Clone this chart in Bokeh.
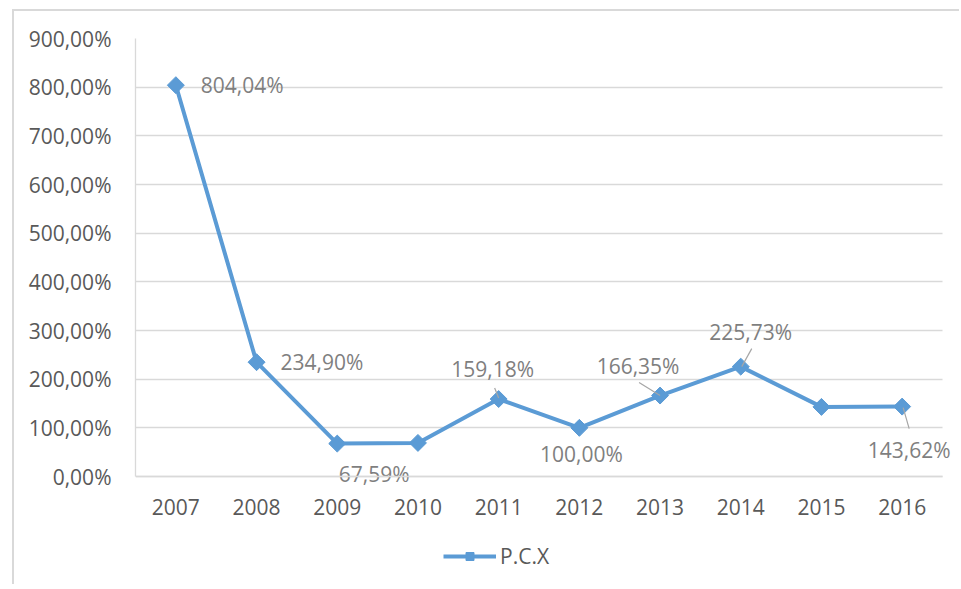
from bokeh.plotting import figure
from bokeh.models import ColumnDataSource, FixedTicker, Legend, LegendItem
from bokeh.core.properties import value
from bokeh.embed import file_html
from bokeh.resources import INLINE
import math

# ---- data ----
years = ["2007", "2008", "2009", "2010", "2011", "2012", "2013", "2014", "2015", "2016"]
values = [804.04, 234.90, 67.59, 69.0, 159.18, 100.00, 166.35, 225.73, 143.0, 143.62]
series_name = "P.C.X"
y_ticks = [0, 100, 200, 300, 400, 500, 600, 700, 800, 900]
y_tick_labels = ["0,00%", "100,00%", "200,00%", "300,00%", "400,00%",
                 "500,00%", "600,00%", "700,00%", "800,00%", "900,00%"]

# data labels (which points are labelled and their texts)
label_idx = [0, 1, 2, 4, 5, 6, 7, 9]
label_txt = ["804,04%", "234,90%", "67,59%", "159,18%", "100,00%", "166,35%", "225,73%", "143,62%"]

# ---- styles: pixel offsets of labels (dx, dy downwards) ----
label_dx = [25, 24, 37, -6, 2, -22, 10, 7]
label_dy = [0, 0, 30, -30, 26, -30, -35, 43]
label_align = ["left", "left", "center", "center", "center", "center", "center", "center"]
# leader lines: (start dx, start dy, end dx, end dy) in px for these points
leader_idx = [4, 6, 7, 9]
leader_px = [(-4, -11, 0, -1), (-21, -13, 0, 0), (11, -18, 1, 0), (1, 1, 7, 22)]

# ---- geometry (px) ----
W, H = 947, 575
BL, BT, BB = 121, 27, 0
PLOT_W = 807          # width of the category area
EXTRA_R = 14          # extra frame room on the right for labels
PLOT_H = 438          # height of the 0..900 value area
frame_h = H - BT - BB
BR = W - BL - PLOT_W - EXTRA_R
YMAX = 900
n = len(years)
px_x = PLOT_W / n
px_y = PLOT_H / YMAX
YMIN = -(frame_h - PLOT_H) / px_y
XMAX = n - 0.5 + EXTRA_R / px_x

FONT = "Open Sans"
FS = "21px"
BLUE = "#5B9BD5"
GRID = "#d9d9d9"

xs = list(range(n))

p = figure(width=W, height=H, output_backend="svg", toolbar_location=None,
           x_range=(-0.5, XMAX), y_range=(YMIN, YMAX),
           min_border_left=BL, min_border_right=BR, min_border_top=BT,
           min_border_bottom=BB)
p.styles = {"border-left": "2px solid #d9d9d9", "border-top": "2px solid #d9d9d9",
            "margin-left": "12px", "margin-top": "9px"}
p.outline_line_color = None
p.background_fill_color = "white"
p.border_fill_color = "white"

p.xgrid.visible = False
p.ygrid.grid_line_color = GRID
p.ygrid.grid_line_width = 1.3
p.ygrid.ticker = FixedTicker(ticks=y_ticks)
try:
    p.ygrid.cross_bounds = (-0.5, n - 0.5)
except Exception:
    pass

p.yaxis.ticker = FixedTicker(ticks=y_ticks)
p.yaxis.major_label_overrides = {t: l for t, l in zip(y_ticks, y_tick_labels)}
p.yaxis.bounds = (0, YMAX)
p.xaxis.ticker = FixedTicker(ticks=xs)
p.xaxis.major_label_overrides = {i: y for i, y in zip(xs, years)}
p.xaxis.fixed_location = 0
p.xaxis.bounds = (-0.5, n - 0.5)
for ax in (p.xaxis[0], p.yaxis[0]):
    ax.axis_line_color = GRID
    ax.axis_line_width = 1.3
    ax.major_tick_line_color = None
    ax.minor_tick_line_color = None
    ax.major_label_text_font = FONT
    ax.major_label_text_font_size = FS
    ax.major_label_text_color = "#595959"
p.yaxis.major_label_standoff = 18
p.xaxis.major_label_standoff = 16

src = ColumnDataSource(dict(x=xs, y=values))
ln = p.line("x", "y", source=src, line_color=BLUE, line_width=4)
mk = p.scatter("x", "y", source=src, marker="square", angle=math.pi / 4,
               size=12, fill_color=BLUE, line_color=BLUE)

# leader lines (converted from px offsets to data units)
lx0, ly0, lx1, ly1 = [], [], [], []
for i, (sdx, sdy, edx, edy) in zip(leader_idx, leader_px):
    lx0.append(xs[i] + sdx / px_x)
    ly0.append(values[i] - sdy / px_y)
    lx1.append(xs[i] + edx / px_x)
    ly1.append(values[i] - edy / px_y)
p.segment(lx0, ly0, lx1, ly1, line_color="#a6a6a6", line_width=1.2)

lsrc = ColumnDataSource(dict(
    x=[xs[i] for i in label_idx],
    y=[values[i] for i in label_idx],
    t=label_txt, dx=label_dx, dy=label_dy, al=label_align))
p.text("x", "y", text="t", source=lsrc, x_offset="dx", y_offset="dy",
       text_align="al", text_baseline="middle", text_font=value(FONT),
       text_font_size=FS, text_color="#7f7f7f")

legend = Legend(items=[LegendItem(label=series_name, renderers=[ln, mk])],
                location=(308, 16), orientation="horizontal",
                glyph_width=53, glyph_height=20, padding=0, margin=0,
                label_text_font=FONT, label_text_font_size=FS,
                label_text_color="#595959", label_standoff=4,
                border_line_color=None, background_fill_alpha=0)
p.add_layout(legend, "center")

open("out.html", "w").write(file_html(p, INLINE))
